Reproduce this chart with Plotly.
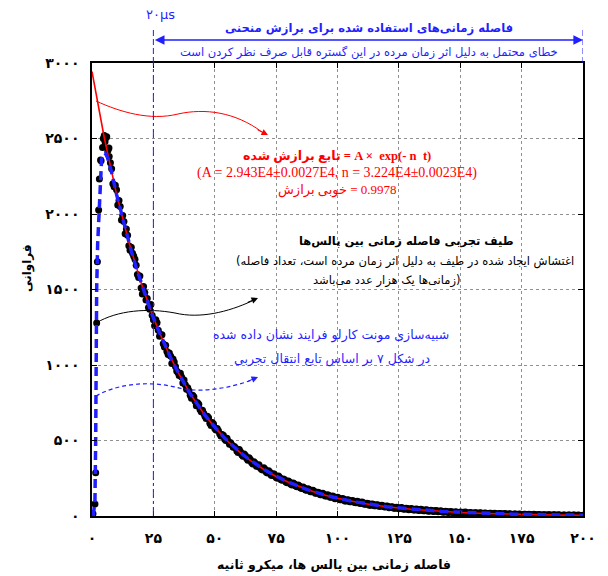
import plotly.graph_objects as go

# ---------------- data ----------------
# experimental spectrum (black dots), read at ~1 us spacing plus early rise
exp_t = [0, 0.4, 1.2, 1.5, 1.9, 2.2, 2.7, 3.0, 3.5, 3.7, 4.3, 4.6, 5.0, 5.3, 5.7, 6.0, 6.5, 6.9] + list(range(7, 201))
exp_v = [5, 15, 80, 287, 1278, 1684, 2026, 2232, 2358, 2353, 2440, 2500, 2520, 2479, 2505, 2512, 2420, 2437,
         2380, 2300, 2180,
         2160, 2090, 1960, 1950, 1900, 1790, 1780, 1720, 1660, 1580,
         1510, 1520, 1430, 1380, 1400, 1300, 1300, 1230, 1200, 1140,
         1130, 1070, 1060, 1040, 990, 950, 945, 880, 870, 850,
         800, 800, 760, 750, 705, 700, 660, 660, 615, 620,
         580, 580, 545, 540, 510, 515, 475, 470, 460, 430,
         440, 405, 410, 380, 385, 355, 360, 330, 340, 310,
         320, 290, 300, 270, 280, 255, 265, 240, 245, 225,
         232, 210, 218, 198, 205, 186, 192, 172, 180, 160,
         170, 150, 158, 140, 150, 132, 140, 124, 132, 115,
         124, 108, 116, 100, 108, 95, 103, 90, 98, 84,
         92, 78, 85, 72, 80, 68, 75, 64, 72, 60,
         66, 55, 62, 52, 58, 48, 56, 45, 52, 42,
         50, 40, 46, 36, 44, 34, 41, 32, 38, 30,
         36, 28, 34, 25, 32, 24, 30, 22, 28, 20,
         27, 18, 26, 16, 24, 15, 22, 14, 21, 13,
         20, 12, 19, 11, 18, 10, 17, 9, 16, 8,
         15, 8, 14, 7, 13, 6, 12, 6, 11, 5,
         11, 4, 10, 4, 9, 3, 9, 3, 8, 2,
         8, 2, 7, 2, 7, 1, 6, 1, 6, 1,
         5]

# additional experimental points between the integer times (t = 7.5 ... 199.5)
exp_t2 = [7.5 + i for i in range(193)]
exp_v2 = [2340, 2200, 2190,
          2060, 2050, 1990, 1870, 1860, 1760, 1740, 1700, 1600, 1590,
          1470, 1480, 1440, 1370, 1330, 1260, 1280, 1190, 1200, 1120,
          1090, 1080, 1010, 1020, 960, 930, 920, 900, 840, 830,
          780, 790, 730, 740, 690, 680, 645, 650, 600, 610,
          570, 565, 530, 535, 500, 495, 485, 455, 450, 420,
          425, 395, 400, 370, 375, 345, 350, 330, 320, 305,
          310, 285, 290, 268, 272, 250, 255, 236, 240, 220,
          225, 206, 212, 194, 198, 182, 186, 170, 176, 160,
          164, 150, 154, 141, 144, 132, 136, 124, 128, 116,
          120, 108, 112, 100, 106, 95, 99, 88, 94, 82,
          88, 78, 82, 72, 77, 68, 73, 64, 68, 60,
          64, 56, 60, 52, 57, 49, 53, 46, 50, 43,
          47, 40, 44, 38, 41, 35, 39, 33, 37, 31,
          34, 29, 32, 27, 30, 25, 28, 24, 27, 22,
          25, 21, 24, 19, 22, 18, 21, 17, 20, 16,
          19, 15, 18, 14, 17, 13, 16, 12, 15, 11,
          14, 10, 13, 9, 12, 9, 11, 8, 10, 7,
          10, 7, 9, 6, 9, 6, 8, 5, 8, 5,
          7, 4, 7, 4, 6, 3, 6, 3, 5, 3]

# Monte Carlo simulation (blue dashed)
mc_t = [0.5, 1.2, 1.5, 1.6, 1.9, 2.3, 2.85, 3.3, 3.9, 4.6, 5.3, 6.2, 8, 10, 12, 14, 16, 18, 20, 22, 24,
        26, 28, 30, 32, 34, 36, 38, 40, 42, 44, 46, 48, 50, 52, 54, 56, 58, 60, 62, 64, 66, 68, 70, 72,
        74, 76, 78, 80, 82, 84, 86, 88, 90, 92, 94, 96, 98, 100, 104, 108, 112, 116, 120, 124, 128, 132,
        136, 140, 144, 148, 152, 156, 160, 164, 168, 172, 176, 180, 184, 188, 192, 196, 200]
mc_v = [0, 100, 500, 1000, 1500, 1800, 2030, 2230, 2360, 2400, 2404, 2380, 2275, 2130, 2000, 1870, 1755,
        1645, 1545, 1450, 1355, 1270, 1195, 1120, 1050, 985, 920, 865, 810, 760, 712, 668, 627, 588, 551,
        516, 485, 454, 426, 399, 375, 351, 329, 309, 290, 271, 255, 239, 224, 210, 197, 185, 173, 163,
        152, 143, 134, 126, 118, 104, 92, 81, 71, 62, 55, 49, 43, 38, 33, 29, 26, 23, 20, 18, 16, 14, 12,
        11, 10, 9, 8, 7, 6, 5]

# fitted curve (red)
fit_t = [0, 5, 10, 15, 20, 25, 30, 35, 40, 45, 50, 55, 60, 65, 70, 75, 80, 85, 90, 95, 100,
         110, 120, 130, 140, 150, 160, 170, 180, 190, 200]
fit_v = [2943, 2505, 2132, 1815, 1544, 1314, 1119, 952, 810, 690, 587, 500, 425, 362, 308, 262, 223,
         190, 162, 138, 117, 85, 61, 45, 32, 23, 17, 12, 9, 6, 5]

x_ticks = [0, 25, 50, 75, 100, 125, 150, 175, 200]
x_ticktext = ["۰", "۲۵", "۵۰", "۷۵", "۱۰۰", "۱۲۵", "۱۵۰", "۱۷۵", "۲۰۰"]
y_ticks = [0, 500, 1000, 1500, 2000, 2500, 3000]
y_ticktext = ["۰", "۵۰۰", "۱۰۰۰", "۱۵۰۰", "۲۰۰۰", "۲۵۰۰", "۳۰۰۰"]

# ---------------- geometry helpers (decorations only) ----------------
OFF = 8                      # page body margin
W, H = 608 - OFF, 576 - OFF
L, R, T, B = 92, 583, 63, 516  # plot box in window pixels


def dx(px):
    return (px - L) * 200 / (R - L)


def dy(py):
    return (B - py) * 3000 / (B - T)


def pxp(px):
    return (px - L) / (R - L)


def pyp(py):
    return (B - py) / (B - T)


BLUE = "#1f1fff"
RED = "#ff0000"
FONT = "Liberation Serif, DejaVu Sans, sans-serif"
PFONT = "DejaVu Sans, sans-serif"
LRM = "\u200e"

fig = go.Figure()
fig.add_trace(go.Scatter(x=exp_t + exp_t2, y=exp_v + exp_v2, mode="markers",
                         marker=dict(color="black", size=7), showlegend=False))
fig.add_trace(go.Scatter(x=fit_t, y=fit_v, mode="lines",
                         line=dict(color=RED, width=1.6), showlegend=False))
fig.add_trace(go.Scatter(x=mc_t, y=mc_v, mode="lines",
                         line=dict(color=BLUE, width=3.5, dash="9px,5px"), showlegend=False))


def bez(pts):
    s = f"M {dx(pts[0][0])},{dy(pts[0][1])}"
    i = 1
    while i < len(pts):
        c1, c2, p = pts[i], pts[i + 1], pts[i + 2]
        s += f" C {dx(c1[0])},{dy(c1[1])} {dx(c2[0])},{dy(c2[1])} {dx(p[0])},{dy(p[1])}"
        i += 3
    return s


shapes = []
shapes.append(dict(type="path", xref="x", yref="y",
                   path=bez([(96, 101), (120, 112), (150, 121), (178, 114), (205, 108), (235, 112), (262, 132)]),
                   line=dict(color=RED, width=1)))
shapes.append(dict(type="path", xref="x", yref="y",
                   path=bez([(96, 323), (118, 310), (148, 308), (175, 313), (200, 319), (228, 312), (252, 301)]),
                   line=dict(color="black", width=1)))
shapes.append(dict(type="path", xref="x", yref="y",
                   path=bez([(96, 396), (115, 385), (145, 380), (175, 387), (200, 394), (230, 388), (252, 380)]),
                   line=dict(color=BLUE, width=1.2, dash="4px,3px")))
shapes.append(dict(type="line", xref="x", yref="paper", x0=25, x1=25, y0=0, y1=1,
                   line=dict(color=BLUE, width=1, dash="dashdot")))
shapes.append(dict(type="line", xref="x", yref="paper", x0=25, x1=25, y0=1, y1=pyp(30),
                   line=dict(color=BLUE, width=1, dash="6px,3px")))
shapes.append(dict(type="line", xref="x", yref="paper", x0=200, x1=200, y0=1, y1=pyp(30),
                   line=dict(color=BLUE, width=1, dash="6px,3px")))

ann = []
ann.append(dict(x=dx(268), y=dy(135), xref="x", yref="y", ax=-12, ay=-6, text="", showarrow=True,
                arrowhead=2, arrowsize=1.3, arrowwidth=1, arrowcolor=RED))
ann.append(dict(x=dx(258), y=dy(298), xref="x", yref="y", ax=-12, ay=5, text="", showarrow=True,
                arrowhead=2, arrowsize=1.3, arrowwidth=1, arrowcolor="black"))
ann.append(dict(x=dx(258), y=dy(377), xref="x", yref="y", ax=-12, ay=5, text="", showarrow=True,
                arrowhead=2, arrowsize=1.3, arrowwidth=1, arrowcolor=BLUE))
ann.append(dict(x=200, y=pyp(40), xref="x", yref="paper", ax=-(R - (L + 25 * (R - L) / 200)), ay=0,
                text="", showarrow=True, arrowhead=2, arrowside="end+start", arrowsize=1.2,
                arrowwidth=1.6, arrowcolor=BLUE, standoff=0, startstandoff=0))


def txt(s, px, py, size, color, bold=False, family=FONT, **kw):
    if bold:
        s = "<b>" + s + "</b>"
    d = dict(text=s, x=pxp(px), y=pyp(py), xref="paper", yref="paper", showarrow=False,
             xanchor="center", yanchor="middle", font=dict(size=size, color=color, family=family))
    d.update(kw)
    ann.append(d)


txt("۲۰µs", 160, 15, 13, BLUE, family=PFONT)
txt("فاصله زمانی‌های استفاده شده برای برازش منحنی", 369, 28, 11.6, BLUE, bold=True, family=PFONT)
txt("خطای محتمل به دلیل اثر زمان مرده در این گستره قابل صرف نظر کردن است", 369, 52, 11.5, BLUE, family=PFONT)

txt("تابع برازش شده" + LRM + " = A ×  exp(- n  t)", 337, 156, 12.6, RED, bold=True)
txt("(A = 2.943E4±0.0027E4, n = 3.224E4±0.0023E4)", 337, 173, 14, RED)
txt("خوبی برازش" + LRM + " = 0.9978", 337, 190, 13, RED)

txt("طیف تجربی فاصله زمانی بین پالس‌ها", 406, 241, 11.5, "black", bold=True, family=PFONT)
txt("(اغتشاش ایجاد شده در طیف به دلیل اثر زمان مرده است، تعداد فاصله", 405, 261, 11.5, "black", family=PFONT)
txt("زمانی‌ها یک هزار عدد می‌باشد)", 387, 280, 11.5, "black", family=PFONT)

txt("شبیه‌سازی مونت کارلو فرایند نشان داده شده", 331, 335, 12.5, BLUE, family=PFONT)
txt("در شکل ۷ بر اساس تابع انتقال تجربی", 332, 359, 12.5, BLUE, family=PFONT)

txt("فاصله زمانی بین پالس ها، میکرو ثانیه", 334, 564, 12.5, "black", bold=True, family=PFONT)
txt("فراوانی", 27, 268, 12, "black", bold=True, family=PFONT, textangle=-90)

axis_common = dict(showline=True, linecolor="black", linewidth=1.5, mirror="ticks", ticks="inside",
                   ticklen=5, tickcolor="black", showgrid=True, gridcolor="#909090", griddash="dot",
                   gridwidth=1, zeroline=False,
                   tickfont=dict(family=PFONT, size=14, color="black"))

fig.update_layout(
    width=W, height=H, margin=dict(l=L - OFF, r=608 - R, t=T - OFF, b=576 - B),
    plot_bgcolor="white", paper_bgcolor="white", showlegend=False,
    xaxis=dict(range=[0, 200], tickvals=x_ticks, ticktext=["<b>" + t + "</b>" for t in x_ticktext],
               ticklabelstandoff=8, **axis_common),
    yaxis=dict(range=[0, 3000], tickvals=y_ticks, ticktext=["<b>" + t + "</b>" for t in y_ticktext],
               ticklabelstandoff=8, **axis_common),
    shapes=shapes, annotations=ann,
)

fig.write_html("out.html")
